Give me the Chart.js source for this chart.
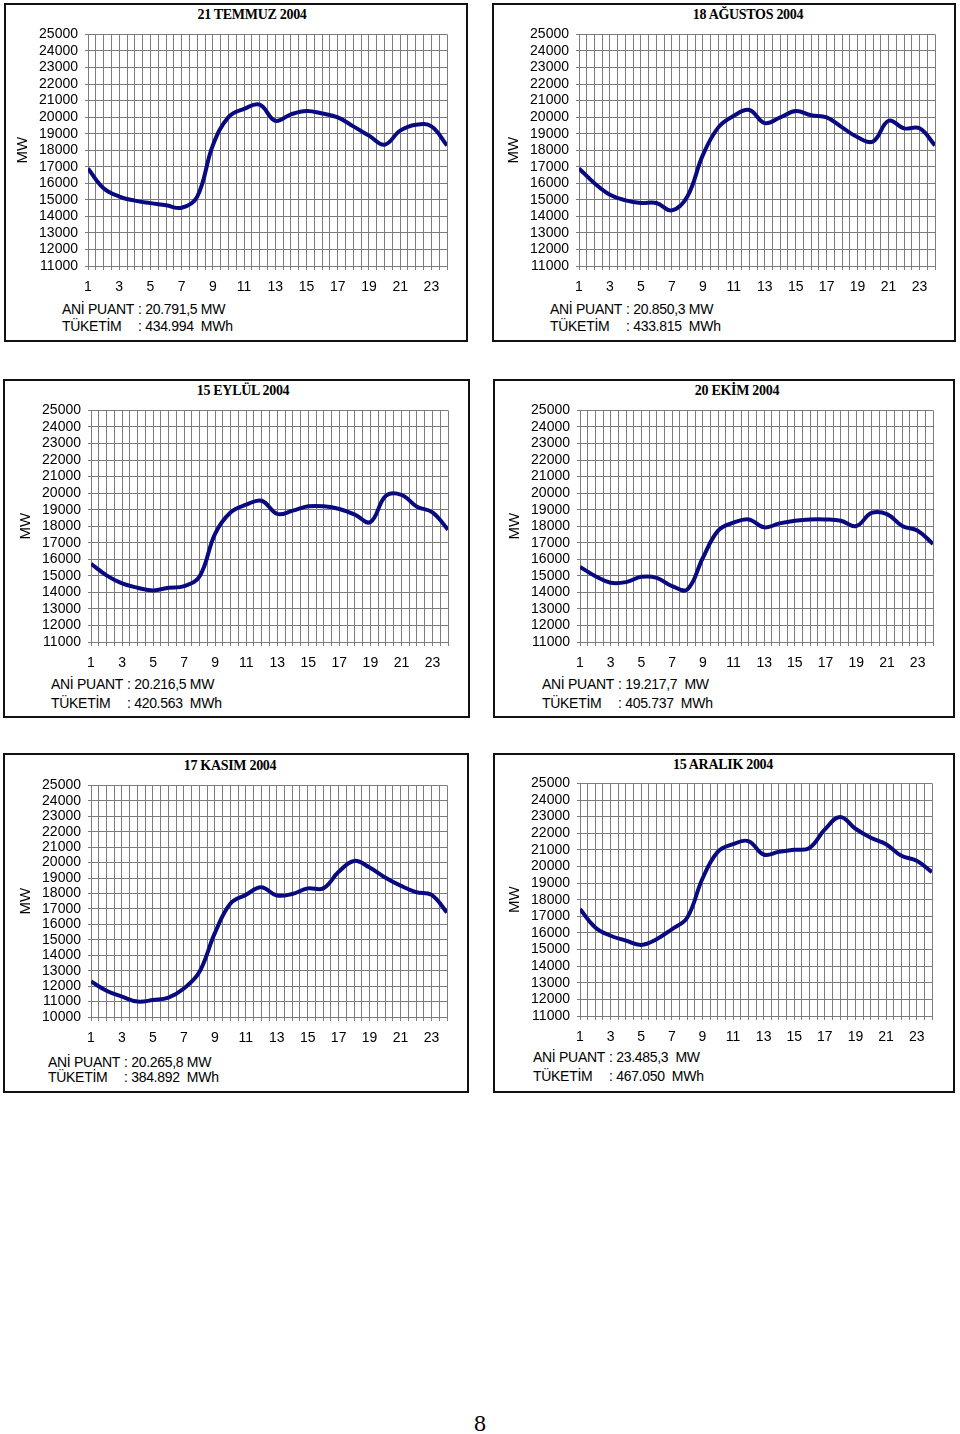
<!DOCTYPE html>
<html>
<head>
<meta charset="utf-8">
<script src="https://cdn.jsdelivr.net/npm/chart.js@4.4.0/dist/chart.umd.min.js"></script>
<style>
  body { margin: 0; background: #fff; }
  #page { position: relative; width: 960px; height: 1434px; background: #fff; overflow: hidden; }
  .box { position: absolute; border: 2px solid #111; box-sizing: border-box; }
  .title { position: absolute; font-family: "Liberation Serif", "Times New Roman", serif; font-weight: bold;
           font-size: 14px; letter-spacing: -0.3px; transform: translate(-50%, -50%); white-space: nowrap; }
  .note { position: absolute; font-family: "Liberation Sans", Arial, sans-serif; font-size: 14px;
          letter-spacing: -0.3px; display: grid; grid-template-columns: auto auto; column-gap: 4px; white-space: pre; }
  canvas { position: absolute; }
  #pageno { position: absolute; left: 480px; top: 1423px; transform: translate(-50%, -50%);
            font-family: "Liberation Serif", "Times New Roman", serif; font-size: 24px; }
</style>
</head>
<body>
<div id="page">
  <div id="pageno">8</div>
</div>
<script>
// saat (x ekseni)
const hours = [1,2,3,4,5,6,7,8,9,10,11,12,13,14,15,16,17,18,19,20,21,22,23,24];

// saatlik yük (MW)
const temmuz = [16900,15700,15200,14950,14800,14670,14520,15200,18300,20000,20500,20750,19780,20170,20370,20220,19980,19440,18880,18330,19180,19540,19440,18290];
const agustos = [16900,16000,15300,14970,14810,14810,14360,15200,17700,19380,20080,20430,19640,19980,20370,20110,19980,19380,18780,18530,19780,19320,19320,18290];
const eylul = [15730,15030,14540,14280,14120,14280,14380,14970,17550,18840,19300,19540,18740,18940,19200,19200,19040,18700,18250,19840,19900,19180,18840,17790];
const ekim = [15540,14980,14580,14620,14940,14880,14380,14180,16080,17730,18210,18410,17930,18170,18330,18410,18410,18330,18010,18800,18730,18010,17730,16930];
const kasim = [12300,11700,11320,11000,11100,11260,11850,12910,15430,17340,17910,18400,17870,17970,18330,18330,19400,20110,19680,19040,18510,18090,17910,16770];
const aralik = [17440,16330,15830,15540,15280,15620,16220,16910,19260,20880,21340,21530,20720,20880,21000,21120,22230,22980,22270,21730,21340,20640,20350,19660];

const titles = ['21 TEMMUZ 2004', '18 AĞUSTOS 2004', '15 EYLÜL 2004', '20 EKİM 2004', '17 KASIM 2004', '15 ARALIK 2004'];
const peaks = ['20.791,5 MW', '20.850,3 MW', '20.216,5 MW', '19.217,7  MW', '20.265,8 MW', '23.485,3  MW'];
const totals = ['434.994  MWh', '433.815  MWh', '420.563  MWh', '405.737  MWh', '384.892  MWh', '467.050  MWh'];
const yMins = [11000, 11000, 11000, 11000, 10000, 11000];
const series = [temmuz, agustos, eylul, ekim, kasim, aralik];

// yerleşim: kutu, çizim alanı, başlık, not
const layouts = [
  { box: [4, 3, 468, 342],   plot: [88, 31, 447, 266],   title: [252, 15],  note: [62, 301, 17] },
  { box: [492, 3, 956, 342], plot: [579, 31, 935, 266],  title: [748, 15],  note: [550, 301, 17] },
  { box: [3, 379, 470, 718], plot: [91, 407, 448, 642],  title: [243, 391], note: [51, 675, 19] },
  { box: [493, 379, 955, 718], plot: [580, 407, 933, 642], title: [737, 391], note: [542, 675, 19] },
  { box: [3, 753, 469, 1093], plot: [91, 782, 447, 1017], title: [230, 766], note: [48, 1055, 15] },
  { box: [493, 753, 955, 1093], plot: [580, 780, 932, 1016], title: [723, 765], note: [533, 1048, 19] },
];

const page = document.getElementById('page');
const font = { family: '"Liberation Sans", Arial, sans-serif', size: 14 };
const gridColor = '#7c7c7c';
const YW = 80, XH = 30, PAD = 12;

layouts.forEach((l, i) => {
  const box = document.createElement('div');
  box.className = 'box';
  box.style.left = l.box[0] + 'px';
  box.style.top = l.box[1] + 'px';
  box.style.width = (l.box[2] - l.box[0]) + 'px';
  box.style.height = (l.box[3] - l.box[1]) + 'px';
  page.appendChild(box);

  const t = document.createElement('div');
  t.className = 'title';
  t.textContent = titles[i];
  t.style.left = l.title[0] + 'px';
  t.style.top = l.title[1] + 'px';
  page.appendChild(t);

  const n = document.createElement('div');
  n.className = 'note';
  n.style.left = l.note[0] + 'px';
  n.style.top = l.note[1] + 'px';
  n.style.lineHeight = l.note[2] + 'px';
  n.innerHTML = '<span>ANİ PUANT</span><span>: ' + peaks[i] + '</span><span>TÜKETİM</span><span>: ' + totals[i] + '</span>';
  page.appendChild(n);

  const [pl, pt, pr, pb] = l.plot;
  const cv = document.createElement('canvas');
  const w = pr - pl + YW + PAD, h = pb - pt + PAD + XH;
  cv.width = w; cv.height = h;
  cv.style.left = (pl - YW) + 'px';
  cv.style.top = (pt - PAD) + 'px';
  cv.style.width = w + 'px';
  cv.style.height = h + 'px';
  page.appendChild(cv);

  new Chart(cv.getContext('2d'), {
    type: 'line',
    data: {
      datasets: [{
        data: hours.map((x, k) => ({ x: x, y: series[i][k] })),
        borderColor: '#0a0a80',
        borderWidth: 4,
        pointRadius: 0,
        tension: 0.4,
        fill: false,
      }]
    },
    options: {
      responsive: false,
      animation: false,
      devicePixelRatio: 1,
      layout: { padding: { top: PAD, right: PAD, left: 0, bottom: 0 } },
      plugins: { legend: { display: false }, tooltip: { enabled: false } },
      scales: {
        x: {
          type: 'linear',
          min: 1, max: 24,
          afterFit: s => { s.height = XH; },
          grid: { color: gridColor, tickLength: 4 },
          border: { color: gridColor },
          ticks: {
            stepSize: 0.5, autoSkip: false, maxRotation: 0, padding: 9,
            color: '#000', font: font,
            callback: v => (Number.isInteger(v) && v % 2 === 1) ? String(v) : ''
          }
        },
        y: {
          min: yMins[i], max: 25000,
          afterFit: s => { s.width = YW; },
          grid: { color: gridColor, tickLength: 3 },
          border: { color: gridColor },
          ticks: { stepSize: 1000, autoSkip: false, padding: 7, color: '#000', font: font, callback: v => String(v) },
          title: { display: true, text: 'MW', color: '#000', padding: { top: 6, bottom: 0 },
                   font: { family: '"Liberation Sans", Arial, sans-serif', size: 15 } }
        }
      }
    }
  });
});
</script>
</body>
</html>
